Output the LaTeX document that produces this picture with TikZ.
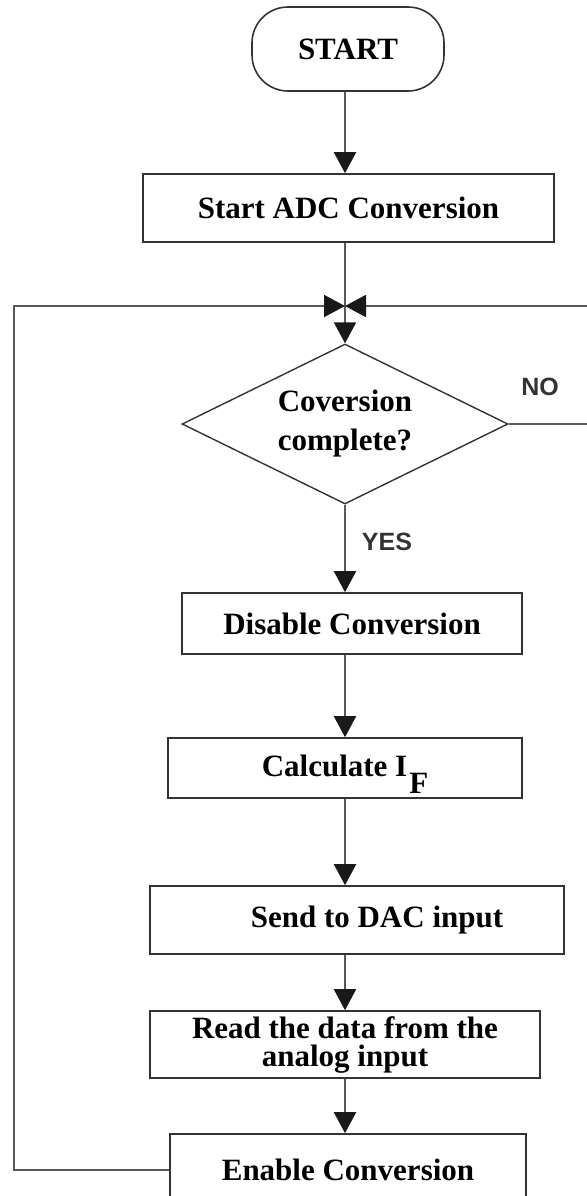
\documentclass[tikz,border=0pt]{standalone}
\usepackage{fontspec}
\setmainfont{Liberation Serif}
\setsansfont{Liberation Sans}
\usetikzlibrary{shapes.geometric,arrows.meta}

\begin{document}
\begin{tikzpicture}[x=0.5pt,y=-0.5pt,
        blocco/.style={rectangle,draw=black!80,line width=0.8pt,inner sep=0pt,
            font=\bfseries\fontsize{15.5}{19}\selectfont},
        decisione/.style={diamond,aspect=2,draw=black!80,line width=0.7pt,inner sep=0pt,
            minimum width=163pt,minimum height=80pt,align=center,
            font=\bfseries\fontsize{15.5}{19.5}\selectfont},
        freccia/.style={draw=black!65,line width=1pt,
            -{Triangle[width=11pt,length=10.5pt,color=black!90]}},
        etichetta/.style={font=\sffamily\bfseries\fontsize{12.5}{15}\selectfont,text=black!80}]

    \useasboundingbox (0,0) rectangle (586,1196);

    %disegna il diagramma di flusso della conversione ADC con il ciclo di ritorno
    \node[blocco,rounded corners=18pt,minimum width=96pt,minimum height=42pt] (start) at (348,49) {START};
    \node[blocco,minimum width=205.5pt,minimum height=34pt] (adc) at (348.5,208) {Start ADC Conversion};
    \coordinate (giunto) at (345,306);
    \node[decisione] (conv) at (345,424) {Coversion\\complete?};
    \node[blocco,minimum width=170pt,minimum height=30.5pt] (disable) at (352,623.5) {Disable Conversion};
    \node[blocco,minimum width=177pt,minimum height=30pt] (calc) at (345,768)
        {\raisebox{2.5pt}{Calculate I\kern1pt\raisebox{-8.5pt}[0pt][0pt]{F}}};
    \node[blocco,minimum width=207pt,minimum height=34pt] (send) at (357,920) {\hspace*{20pt}Send to DAC input};
    \node[blocco,minimum width=195pt,minimum height=33.5pt,align=center,
        font=\bfseries\fontsize{15.5}{14}\selectfont] (read) at (345,1044.5) {Read the data from the\\analog input};
    \node[blocco,minimum width=178pt,minimum height=36pt] (enable) at (348,1170) {Enable Conversion};

    \node[etichetta] (no) at (540,387) {NO};
    \node[etichetta] (yes) at (387,542) {YES};

    \coordinate (sinistra) at (14,306);
    \coordinate (destra) at (592,306);

    \draw[freccia] (start.south -| conv) -- (conv |- adc.north);
    \draw[freccia] (adc.south -| conv) -- (conv.north);
    \draw[freccia] (conv.south) -- (conv |- disable.north);
    \draw[freccia] (disable.south -| conv) -- (conv |- calc.north);
    \draw[freccia] (calc.south -| conv) -- (conv |- send.north);
    \draw[freccia] (send.south -| conv) -- (conv |- read.north);
    \draw[freccia] (read.south -| conv) -- (conv |- enable.north);

    \draw[freccia] (enable.west) -| (sinistra) -- (giunto);
    \draw[freccia] (conv.east) -| (destra) -- (giunto);

\end{tikzpicture}
\end{document}
